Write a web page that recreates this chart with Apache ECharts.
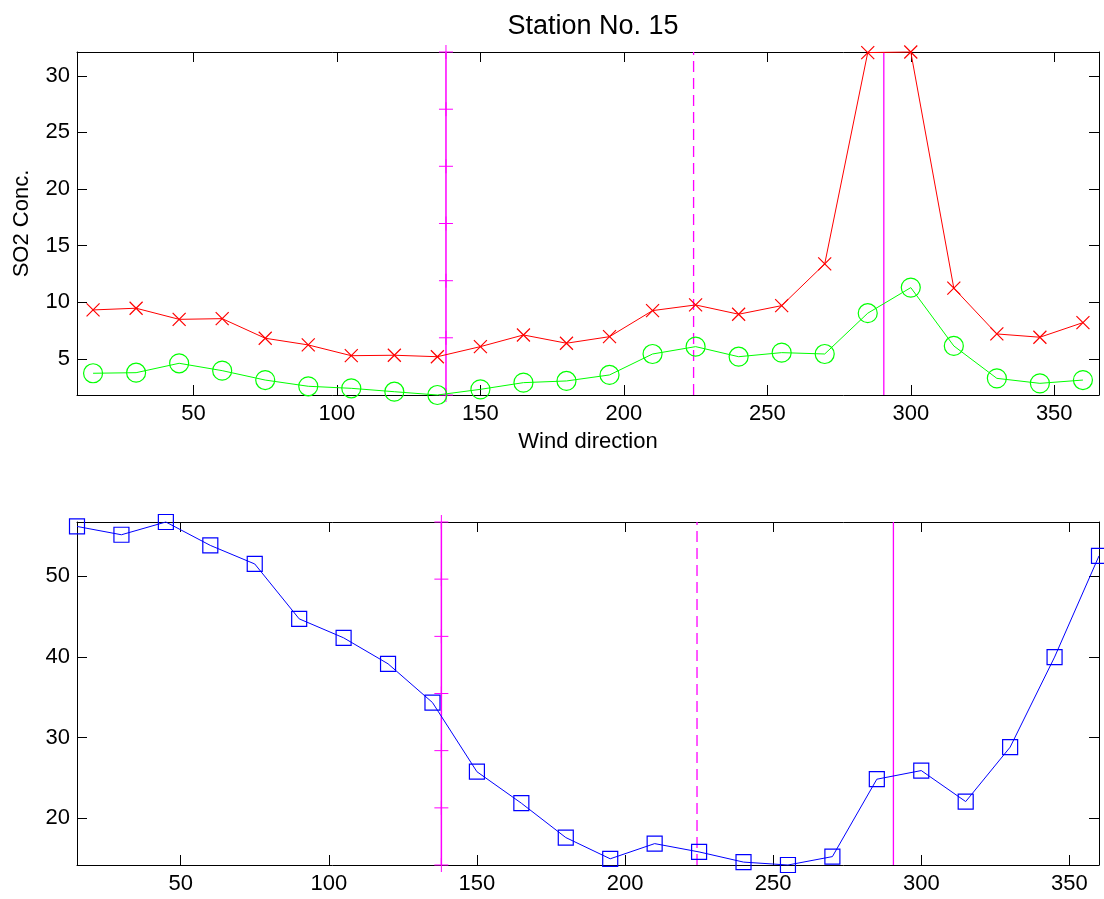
<!DOCTYPE html>
<html><head><meta charset="utf-8">
<script src="https://cdn.jsdelivr.net/npm/echarts@6/dist/echarts.min.js"></script>
<style>html,body{margin:0;padding:0;background:#fff}#chart{width:1104px;height:899px}</style>
</head><body><div id="chart"></div>
<script>
// ---- data ----
const windDirection = [15,30,45,60,75,90,105,120,135,150,165,180,195,210,225,240,255,270,285,300,315,330,345,360];
const so2Red   = [9.33,9.48,8.5,8.56,6.83,6.24,5.29,5.33,5.2,6.09,7.12,6.39,6.97,9.27,9.77,8.95,9.71,13.39,32.05,32.1,11.25,7.21,6.92,8.21];
const so2Green = [3.74,3.79,4.62,3.97,3.14,2.59,2.41,2.11,1.82,2.32,2.91,3.06,3.59,5.44,6.09,5.2,5.56,5.44,9.04,11.3,6.15,3.29,2.85,3.14];
const lowerBlue = [56.15,55.12,56.7,53.8,51.5,44.7,42.35,39.13,34.33,25.76,21.86,17.6,14.97,16.85,15.82,14.56,14.2,15.24,24.83,25.9,22.06,28.8,39.96,52.5];
const xTickValues = [50,100,150,200,250,300,350];
const topYTickValues = [5,10,15,20,25,30];
const bottomYTickValues = [20,30,40,50];
const refDirections = [138, 224.3, 290.6]; // solid(+), dashed, solid
const topRefMarks = [1.82,6.87,11.91,16.96,22.01,27.05,32.1];
const bottomRefMarks = [14.2,21.28,28.37,35.45,42.53,49.62,56.7];
const topXRange = [9.4, 365.6];
const topYRange = [1.82, 32.1];
const bottomXRange = [15, 360];
const bottomYRange = [14.2, 56.7];

const FONT = 'Liberation Sans, Arial, Helvetica, sans-serif';
const pairs = (xs, ys) => xs.map((x, i) => [x, ys[i]]);
const MAG = '#ff00ff';

function xAx(gi, range, pos, showLabels, extra) {
  return Object.assign({
    type: 'value', gridIndex: gi, min: range[0], max: range[1], position: pos,
    axisLine: { show: true, onZero: false, lineStyle: { color: '#000', width: 1 } },
    axisTick: { show: true, inside: true, length: 10, lineStyle: { color: '#000' }, customValues: xTickValues },
    axisLabel: { show: showLabels, customValues: xTickValues, color: '#000', fontSize: 22, fontFamily: FONT, margin: 8 },
    splitLine: { show: false }
  }, extra || {});
}
function yAx(gi, range, pos, ticks, showLabels, extra) {
  return Object.assign({
    type: 'value', gridIndex: gi, min: range[0], max: range[1], position: pos,
    axisLine: { show: true, onZero: false, lineStyle: { color: '#000', width: 1 } },
    axisTick: { show: true, inside: true, length: 10, lineStyle: { color: '#000' }, customValues: ticks },
    axisLabel: { show: showLabels, customValues: ticks, color: '#000', fontSize: 22, fontFamily: FONT, margin: 7 },
    splitLine: { show: false }
  }, extra || {});
}

const crossSym = 'path://M0,0L10,10M10,0L0,10';
const plusSym = 'path://M5,0L5,10M0,5L10,5';

function refSeries(xi, yi, yRange, marks) {
  return [
    { type: 'line', xAxisIndex: xi, yAxisIndex: yi, clip: false, silent: true,
      data: marks.map(v => [refDirections[0], v]),
      symbol: plusSym, symbolSize: 14,
      itemStyle: { color: MAG, borderColor: MAG, borderWidth: 1 },
      lineStyle: { color: MAG, width: 1.5 }, z: 3 },
    { type: 'line', xAxisIndex: xi, yAxisIndex: yi, clip: false, silent: true,
      data: [[refDirections[1], yRange[0]], [refDirections[1], yRange[1]]],
      symbol: 'none', lineStyle: { color: MAG, width: 1.3, type: [11, 6] }, z: 3 },
    { type: 'line', xAxisIndex: xi, yAxisIndex: yi, clip: false, silent: true,
      data: [[refDirections[2], yRange[0]], [refDirections[2], yRange[1]]],
      symbol: 'none', lineStyle: { color: MAG, width: 1.3 }, z: 3 }
  ];
}

const chart = echarts.init(document.getElementById('chart'), null, { renderer: 'canvas' });
chart.setOption({
  animation: false,
  backgroundColor: '#fff',
  title: {
    text: 'Station No. 15', left: 588, top: 8, textAlign: 'center',
    textStyle: { fontFamily: FONT, fontSize: 27, fontWeight: 'normal', color: '#000' }
  },
  grid: [
    { left: 77, right: 5, top: 52, height: 343 },
    { left: 77, right: 5, top: 522, height: 343 }
  ],
  xAxis: [
    xAx(0, topXRange, 'bottom', true, {
      name: 'Wind direction', nameLocation: 'middle', nameGap: 36,
      nameTextStyle: { fontFamily: FONT, fontSize: 22, color: '#000' }
    }),
    xAx(0, topXRange, 'top', false),
    xAx(1, bottomXRange, 'bottom', true),
    xAx(1, bottomXRange, 'top', false)
  ],
  yAxis: [
    yAx(0, topYRange, 'left', topYTickValues, true, {
      name: 'SO2 Conc.', nameLocation: 'middle', nameGap: 44,
      nameTextStyle: { fontFamily: FONT, fontSize: 22, color: '#000' }
    }),
    yAx(0, topYRange, 'right', topYTickValues, false),
    yAx(1, bottomYRange, 'left', bottomYTickValues, true),
    yAx(1, bottomYRange, 'right', bottomYTickValues, false)
  ],
  series: [
    ...refSeries(0, 0, topYRange, topRefMarks),
    { type: 'line', xAxisIndex: 0, yAxisIndex: 0, clip: false, silent: true,
      data: pairs(windDirection, so2Red), symbol: crossSym, symbolSize: 13,
      itemStyle: { color: '#ff0000', borderColor: '#ff0000', borderWidth: 1.2 },
      lineStyle: { color: '#ff0000', width: 1 }, z: 4 },
    { type: 'line', xAxisIndex: 0, yAxisIndex: 0, clip: false, silent: true,
      data: pairs(windDirection, so2Green), symbol: 'circle', symbolSize: 19,
      itemStyle: { color: 'rgba(0,0,0,0)', borderColor: '#00ff00', borderWidth: 1.2 },
      lineStyle: { color: '#00ff00', width: 1 }, z: 4 },
    ...refSeries(2, 2, bottomYRange, bottomRefMarks),
    { type: 'line', xAxisIndex: 2, yAxisIndex: 2, clip: false, silent: true,
      data: pairs(windDirection, lowerBlue), symbol: 'rect', symbolSize: 15,
      itemStyle: { color: 'rgba(0,0,0,0)', borderColor: '#0000ff', borderWidth: 1.2 },
      lineStyle: { color: '#0000ff', width: 1 }, z: 4 }
  ]
});
</script></body></html>
